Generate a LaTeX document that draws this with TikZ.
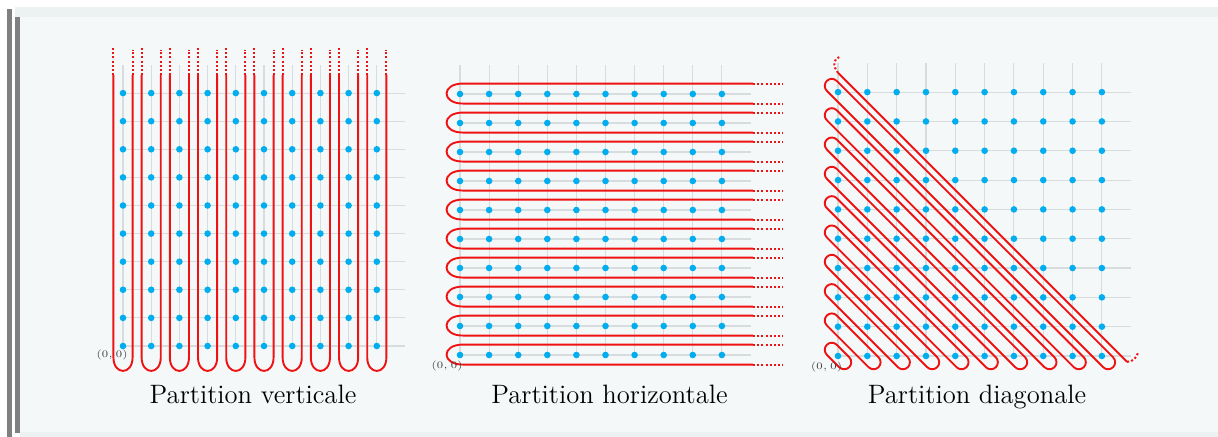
\documentclass[tikz,border=0pt]{standalone}
\usepackage{tikz}
\definecolor{panelbg}{RGB}{245,248,249}
\definecolor{bandc}{RGB}{236,241,242}
\definecolor{barc}{RGB}{128,128,128}
\definecolor{gridc}{RGB}{215,220,223}
\definecolor{dotc}{RGB}{0,174,239}
\definecolor{loopc}{RGB}{238,18,18}
\definecolor{labc}{RGB}{60,60,60}
\tikzset{
  gridline/.style={gridc, line width=0.55pt},
  ptdot/.style={fill=dotc},
  loopline/.style={loopc, line width=0.95pt, line join=round},
  dotline/.style={loopc, line width=1pt, dash pattern=on 1pt off 1.1pt},
  caption/.style={font=\fontsize{13.3}{15}\selectfont, anchor=base, inner sep=0pt},
  origin/.style={font=\fontsize{5.5}{6}\selectfont, text=labc, inner sep=0pt}
}
\begin{document}
\begin{tikzpicture}[x=0.5pt, y=-0.5pt]
\useasboundingbox (0,0) rectangle (1218,437);
\fill[white] (0,0) rectangle (1218,437);
% frame
\fill[bandc] (15,7) rectangle (1218,17);
\fill[panelbg] (20,17) rectangle (1218,432);
\fill[bandc] (20,432) rectangle (1218,437);
\fill[barc] (7,9) rectangle (12,437);
\fill[barc] (15,17) rectangle (20,433);

% ---------- vertical partition ----------
\begin{scope}[shift={(123,346)}, x=14.1pt, y=14.05pt]
  \foreach \i in {0,...,9} {
    \draw[gridline] (\i,0) -- (\i,10);
    \draw[gridline] (0,\i) -- (10,\i);
  }
  \foreach \i in {0,...,9} \foreach \j in {0,...,9}
    \fill[ptdot] (\i,\j) circle[radius=1.65pt];
  \foreach \i in {0,...,9} {
    \draw[loopline] (\i-0.34,9.64) -- (\i-0.34,-0.4)
      .. controls (\i-0.34,-1.05) and (\i+0.34,-1.05) .. (\i+0.34,-0.4) -- (\i+0.34,9.64);
    \draw[dotline] (\i-0.34,9.64) -- (\i-0.34,10.6);
    \draw[dotline] (\i+0.34,9.64) -- (\i+0.34,10.55);
  }
\end{scope}
\node[origin] (l1) at (112,355) {$(0,0)$};
\node[caption] (c1) at (253,403) {Partition verticale};

% ---------- horizontal partition ----------
\begin{scope}[shift={(460,355)}, x=14.55pt, y=14.5pt]
  \foreach \i in {0,...,9} {
    \draw[gridline] (\i,0) -- (\i,10);
    \draw[gridline] (0,\i) -- (10,\i);
  }
  \foreach \i in {0,...,9} \foreach \j in {0,...,9}
    \fill[ptdot] (\i,\j) circle[radius=1.65pt];
  \foreach \j in {0,...,9} {
    \draw[loopline] (10.07,\j+0.36) -- (0.1,\j+0.36)
      .. controls (-0.65,\j+0.36) and (-0.65,\j-0.33) .. (0.1,\j-0.33) -- (10.07,\j-0.33);
    \draw[dotline] (10.07,\j+0.36) -- (11.1,\j+0.36);
    \draw[dotline] (10.07,\j-0.33) -- (11.1,\j-0.33);
  }
\end{scope}
\node[origin] (l2) at (447,366.5) {$(0,0)$};
\node[caption] (c2) at (609.5,403) {Partition horizontale};

% ---------- diagonal partition ----------
\begin{scope}[shift={(838,356)}, x=14.66pt, y=14.66pt]
  \foreach \i in {0,...,9} {
    \draw[gridline] (\i,0) -- (\i,10);
    \draw[gridline] (0,\i) -- (10,\i);
  }
  \foreach \i in {0,...,9} \foreach \j in {0,...,9}
    \fill[ptdot] (\i,\j) circle[radius=1.65pt];
  \foreach \k in {0,...,9} {
    \begin{scope}[shift={(0,\k)}, rotate=-45]
      \draw[loopline] (-0.3,-0.24) -- ({\k*1.41421+0.3},-0.24)
        arc[start angle=-90, end angle=90, radius=0.24]
        -- (-0.3,0.24)
        arc[start angle=90, end angle=270, radius=0.24] -- cycle;
    \end{scope}
  }
  \coordinate (ka) at (0,9.66);
  \coordinate (kb) at (9.86,-0.2);
  \draw[loopline] (ka) -- (kb);
  \draw[dotline] (ka) .. controls (-0.2,9.9) and (-0.15,10.15) .. (0.05,10.2);
  \draw[dotline] (kb) .. controls (10.05,-0.2) and (10.2,-0.05) .. (10.24,0.14);
\end{scope}
\node[origin] (l3) at (826.5,367) {$(0,0)$};
\node[caption] (c3) at (977,403) {Partition diagonale};
\end{tikzpicture}
\end{document}
